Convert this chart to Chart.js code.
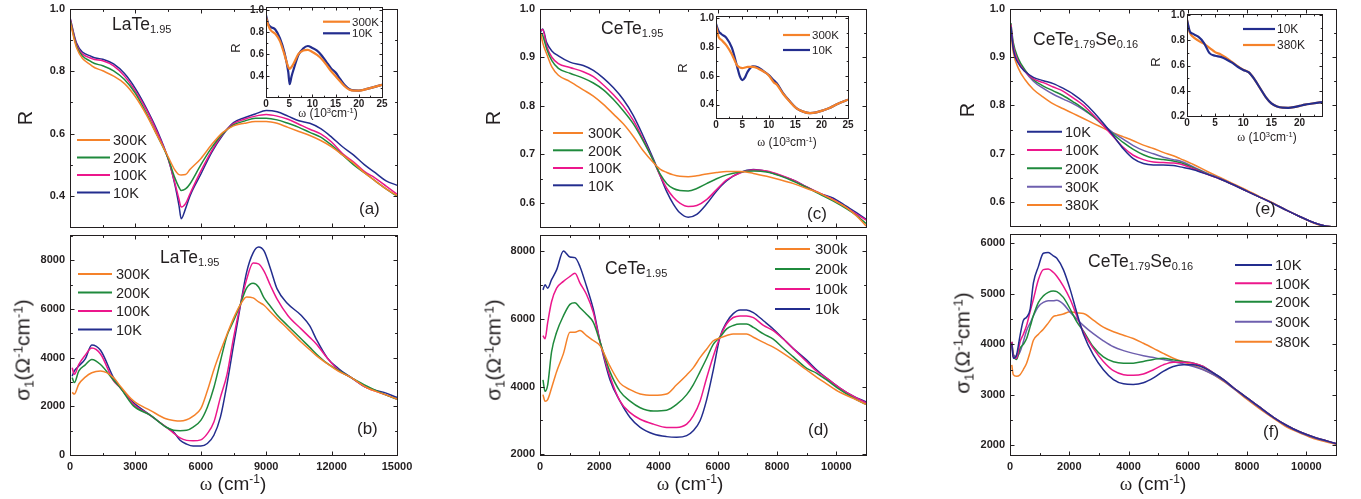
<!DOCTYPE html>
<html>
<head>
<meta charset="utf-8">
<script src="https://cdn.jsdelivr.net/npm/chart.js@4.4.1/dist/chart.umd.min.js"></script>
<style>
body{margin:0;background:#fff;width:1361px;height:499px;overflow:hidden;position:relative;font-family:"Liberation Sans",Arial,sans-serif;}
canvas{position:absolute;}
.t{position:absolute;white-space:nowrap;color:#231f20;line-height:1;}
.t sub{font-size:0.63em;vertical-align:-0.3em;line-height:0;}
.t sup{font-size:0.63em;vertical-align:0.55em;line-height:0;}
.w{font-family:"Liberation Serif","DejaVu Serif",serif;}
</style>
</head>
<body>
<script>
// ---------- data: panel (a) LaTe1.95 reflectivity ----------
var aX = [0,300,1000,1500,2000,2500,3000,3500,4000,4500,4800,5000,5100,5300,5500,6000,6500,7000,7500,8000,8500,9000,9500,10000,10500,11000,11500,12000,12500,13000,13500,14000,14500,15000];
var aR10 = [0.972,0.89,0.846,0.838,0.823,0.792,0.744,0.682,0.61,0.52,0.44,0.37,0.328,0.36,0.40,0.47,0.54,0.595,0.635,0.651,0.663,0.674,0.67,0.656,0.641,0.633,0.616,0.589,0.558,0.532,0.501,0.475,0.449,0.435];
var aR100 = [0.97,0.885,0.84,0.833,0.817,0.784,0.736,0.677,0.604,0.52,0.445,0.39,0.365,0.376,0.407,0.48,0.545,0.598,0.632,0.646,0.656,0.661,0.656,0.646,0.63,0.614,0.599,0.573,0.536,0.51,0.479,0.458,0.432,0.406];
var aR200 = [0.965,0.88,0.829,0.817,0.801,0.773,0.729,0.666,0.594,0.521,0.46,0.428,0.418,0.423,0.439,0.5,0.555,0.6,0.628,0.64,0.649,0.649,0.644,0.633,0.62,0.604,0.589,0.563,0.532,0.501,0.475,0.449,0.423,0.4];
var aR300 = [0.96,0.875,0.817,0.801,0.784,0.76,0.718,0.661,0.594,0.526,0.485,0.469,0.468,0.469,0.485,0.52,0.565,0.603,0.625,0.633,0.639,0.639,0.633,0.62,0.607,0.594,0.578,0.558,0.532,0.506,0.475,0.449,0.423,0.402];

// ---------- panel (b) LaTe1.95 conductivity ----------
var bX = [100,200,400,700,1000,1400,2000,2300,2900,3700,4400,4750,5050,5350,5650,6000,6300,6600,6900,7200,7500,7800,8100,8400,8650,8900,9200,9500,10000,10600,11000,11300,11800,12300,12900,13600,14400,15000];
var bS10 = [3240,3450,3650,3950,4520,4300,3170,2770,2160,1620,1150,946,608,446,365,365,473,811,1554,2900,4500,6050,7500,8300,8540,8380,7640,6820,6200,5740,5300,4750,3990,3560,3180,2770,2570,2365];
var bS100 = [3581,3311,3716,4100,4392,4149,3041,2770,2095,1622,1150,900,700,600,581,620,878,1351,2365,3300,4800,6100,7200,7880,7850,7550,6950,6400,5720,5180,4830,4560,3980,3500,3176,2770,2500,2297];
var bS200 = [3176,2973,3446,3700,3919,3716,3068,2770,2027,1622,1149,1014,1000,1014,1149,1419,1959,2770,3851,4900,5500,6150,6850,7050,6900,6450,6100,5750,5300,4770,4420,4150,3760,3480,3176,2838,2500,2297];
var bS300 = [2568,2500,2905,3200,3378,3446,3176,2838,2230,1824,1486,1420,1392,1450,1600,1900,2635,3500,4257,4950,5608,6150,6486,6450,6284,6150,5870,5600,5170,4640,4320,4080,3750,3450,3176,2770,2500,2297];

// ---------- inset of (a), x in 10^3 cm-1 ----------
var i1X = [0,0.5,1,2,3,4,4.8,5.1,5.5,6,7,8,9,10,11,12,13,14,15,16,17,18,19,20,22,25];
var i1R10 = [0.95,0.87,0.846,0.823,0.744,0.61,0.44,0.33,0.40,0.47,0.595,0.651,0.674,0.656,0.633,0.589,0.532,0.475,0.435,0.375,0.32,0.285,0.274,0.273,0.29,0.325];
var i1R300 = [0.93,0.86,0.817,0.784,0.718,0.594,0.485,0.468,0.485,0.52,0.603,0.633,0.639,0.62,0.594,0.558,0.506,0.449,0.402,0.355,0.31,0.28,0.272,0.272,0.29,0.325];

// ---------- panel (c) CeTe1.95 reflectivity ----------
var cX = [30,90,225,400,620,1010,1460,1800,2140,2480,2810,3150,3490,3830,4050,4280,4500,4720,5000,5290,5620,5960,6300,6750,7200,7650,8100,8550,9000,9450,9900,10350,10690,11000];
var cR10 = [0.953,0.958,0.93,0.913,0.903,0.89,0.883,0.873,0.857,0.837,0.813,0.78,0.737,0.69,0.657,0.623,0.598,0.58,0.571,0.577,0.598,0.625,0.646,0.663,0.669,0.665,0.657,0.647,0.633,0.62,0.61,0.593,0.58,0.567];
var cR100 = [0.955,0.957,0.923,0.9,0.887,0.879,0.87,0.86,0.843,0.823,0.8,0.77,0.73,0.687,0.657,0.63,0.612,0.6,0.593,0.595,0.607,0.628,0.648,0.662,0.668,0.666,0.658,0.647,0.633,0.62,0.607,0.59,0.577,0.565];
var cR200 = [0.95,0.945,0.917,0.893,0.877,0.867,0.857,0.847,0.833,0.813,0.79,0.763,0.727,0.687,0.66,0.64,0.63,0.626,0.625,0.63,0.64,0.65,0.658,0.664,0.666,0.664,0.656,0.645,0.632,0.618,0.604,0.588,0.574,0.558];
var cR300 = [0.949,0.93,0.907,0.88,0.863,0.85,0.833,0.82,0.803,0.783,0.763,0.737,0.707,0.683,0.67,0.663,0.658,0.655,0.654,0.656,0.66,0.663,0.665,0.665,0.661,0.655,0.648,0.64,0.63,0.62,0.606,0.59,0.573,0.553];

// ---------- panel (d) CeTe1.95 conductivity ----------
var dX = [100,170,260,390,560,790,1010,1180,1350,1570,1800,2030,2360,2700,3040,3380,3830,4270,4610,4950,5170,5400,5620,5850,6070,6300,6520,6750,6970,7200,7540,7870,8210,8550,9000,9340,9670,10120,10570,11000];
var dS10 = [6850,7000,6900,7150,7440,8000,7820,7800,7534,6954,6277,5309,4200,3567,3084,2793,2600,2522,2503,2552,2697,2990,3600,4500,5450,5900,6150,6258,6258,6180,5938,5696,5406,5116,4777,4487,4245,3955,3713,3548];
var dS100 = [5503,5406,5890,6500,6900,7100,7245,7341,7051,6712,6180,5309,4300,3567,3229,3035,2890,2793,2793,2890,3132,3567,4245,4900,5450,5850,6035,6083,6083,6030,5800,5650,5400,5110,4730,4450,4245,3955,3713,3519];
var dS200 = [4196,3858,4051,5019,5599,6083,6422,6470,6325,6132,5890,5309,4438,3858,3567,3374,3277,3300,3471,3761,4051,4438,4825,5250,5450,5700,5800,5841,5841,5745,5551,5400,5130,4874,4535,4390,4196,3906,3664,3471];
var dS300 = [3761,3567,3616,3955,4438,4970,5599,5599,5650,5500,5357,5200,4600,4100,3906,3780,3742,3780,4051,4341,4550,4850,5100,5350,5430,5503,5551,5551,5551,5454,5300,5160,4980,4777,4487,4270,4080,3830,3650,3471];

// ---------- inset of (c) ----------
var i2X = [0,0.5,1,2,3,4,4.5,5,5.5,6,7,8,9,10,11,11.5,12.7,14,15.2,16.5,17.8,19,20.3,21.5,23.1,25];
var i2R10 = [0.96,0.91,0.89,0.862,0.795,0.664,0.598,0.571,0.59,0.63,0.666,0.658,0.633,0.606,0.567,0.55,0.481,0.423,0.377,0.352,0.342,0.347,0.361,0.377,0.407,0.435];
var i2R300 = [0.95,0.87,0.85,0.81,0.75,0.672,0.658,0.654,0.658,0.663,0.663,0.65,0.63,0.603,0.553,0.54,0.476,0.42,0.376,0.352,0.342,0.347,0.361,0.377,0.407,0.435];

// ---------- panel (e) CeTe1.79Se0.16 reflectivity ----------
var eX = [30,110,280,510,790,1125,1460,1800,2140,2480,2810,3150,3490,3830,4160,4500,4840,5170,5510,5740,6190,6640,7090,7540,7990,8440,8890,9340,9790,10240,10570,11000];
var eR10 = [0.963,0.917,0.887,0.87,0.858,0.851,0.845,0.835,0.823,0.807,0.787,0.763,0.737,0.71,0.69,0.68,0.677,0.677,0.676,0.673,0.667,0.658,0.648,0.636,0.623,0.61,0.597,0.583,0.57,0.558,0.552,0.548];
var eR100 = [0.967,0.923,0.89,0.87,0.855,0.847,0.838,0.829,0.815,0.8,0.78,0.758,0.735,0.713,0.697,0.688,0.683,0.682,0.681,0.679,0.669,0.658,0.648,0.636,0.623,0.61,0.597,0.583,0.57,0.558,0.552,0.548];
var eR200 = [0.97,0.93,0.897,0.873,0.853,0.84,0.83,0.82,0.807,0.793,0.777,0.758,0.74,0.723,0.709,0.698,0.691,0.688,0.685,0.682,0.671,0.659,0.648,0.636,0.623,0.61,0.597,0.583,0.57,0.558,0.552,0.548];
var eR300 = [0.96,0.923,0.893,0.87,0.85,0.835,0.823,0.813,0.803,0.791,0.777,0.76,0.743,0.73,0.717,0.707,0.7,0.693,0.688,0.685,0.673,0.66,0.649,0.636,0.623,0.61,0.597,0.583,0.57,0.558,0.552,0.548];
var eR380 = [0.95,0.91,0.877,0.853,0.833,0.817,0.803,0.793,0.783,0.773,0.763,0.753,0.743,0.735,0.727,0.718,0.711,0.703,0.696,0.69,0.678,0.664,0.651,0.638,0.625,0.611,0.598,0.583,0.57,0.557,0.551,0.548];

// ---------- panel (f) CeTe1.79Se0.16 conductivity ----------
var fX = [60,110,220,340,450,560,680,790,960,1125,1290,1460,1580,1800,2030,2250,2480,2810,3150,3490,3830,4160,4500,4840,5170,5510,5850,6190,6520,6860,7200,7540,7990,8440,8890,9340,9790,10240,11000];
var fS10 = [4016,3724,3789,4179,4472,4537,4699,5220,5545,5805,5818,5753,5707,5480,5089,4634,4200,3789,3496,3301,3216,3203,3236,3333,3463,3561,3593,3593,3541,3431,3301,3138,2943,2748,2553,2390,2260,2163,2033];
var fS100 = [4049,3756,3724,4049,4200,4374,4650,4894,5285,5480,5493,5428,5350,5154,4894,4569,4240,3919,3659,3476,3398,3385,3411,3496,3593,3646,3646,3626,3561,3431,3301,3138,2943,2748,2553,2390,2260,2163,2033];
var fS200 = [4049,3800,3700,3919,4000,4114,4350,4569,4830,4960,5030,5057,5045,4930,4700,4450,4260,3950,3750,3655,3626,3626,3660,3700,3724,3691,3659,3626,3561,3431,3301,3138,2943,2748,2553,2390,2260,2163,2033];
var fS300 = [4049,3800,3750,3854,4050,4276,4420,4569,4750,4830,4862,4862,4875,4797,4634,4504,4370,4210,4070,3951,3875,3820,3775,3737,3700,3660,3610,3561,3496,3398,3280,3125,2930,2735,2545,2380,2250,2150,2025];
var fS380 = [3593,3400,3366,3398,3500,3626,3850,4081,4200,4300,4420,4550,4569,4602,4647,4621,4610,4480,4340,4250,4180,4114,4020,3920,3820,3724,3650,3580,3500,3398,3268,3125,2911,2715,2533,2358,2241,2130,2020];

// ---------- inset of (e) ----------
var i3X = [0,0.5,1,2,3,4,5,6,7,8,9,10,11,12,13,14,15,16,17,18,19,20,21,22,24];
var i3R10 = [0.963,0.87,0.852,0.828,0.78,0.698,0.677,0.668,0.648,0.623,0.59,0.565,0.545,0.49,0.42,0.35,0.3,0.275,0.266,0.265,0.27,0.28,0.29,0.297,0.31];
var i3R380 = [0.96,0.86,0.83,0.797,0.773,0.74,0.706,0.688,0.66,0.628,0.595,0.567,0.545,0.49,0.42,0.35,0.3,0.275,0.266,0.265,0.27,0.28,0.29,0.297,0.31];

// ---------- tick labels ----------
var ticksX15 = [0,3000,6000,9000,12000,15000];
var ticksX11 = [0,2000,4000,6000,8000,10000];
var ticksYa = [0.4,0.6,0.8,1.0];
var ticksYb = [0,2000,4000,6000,8000];
var ticksYce = [0.6,0.7,0.8,0.9,1.0];
var ticksYd = [2000,4000,6000,8000];
var ticksYf = [2000,3000,4000,5000,6000];
var ticksInX = [0,5,10,15,20,25];
var ticksIn3X = [0,5,10,15,20];
var ticksInY = [0.4,0.6,0.8,1.0];
var ticksIn3Y = [0.2,0.4,0.6,0.8,1.0];

var labK = ['300K','200K','100K','10K'];
var labk = ['300k','200k','100k','10k'];
var labSe = ['10K','100K','200K','300K','380K'];

var orange = '#f5822a', green = '#1f8a3c', pink = '#ec178c', blue = '#232d8e', purple = '#6e5fae';
var ink = '#231f20';
var fam = '"Liberation Sans", Arial, sans-serif';

function framePlugin(p) {
  return {
    id: 'frame',
    beforeDatasetsDraw: function(chart) {
      if (!p.white) return;
      var a = chart.chartArea, ctx = chart.ctx;
      ctx.save(); ctx.fillStyle = '#fff';
      ctx.fillRect(a.left, a.top, a.right - a.left, a.bottom - a.top);
      ctx.restore();
    },
    afterDatasetsDraw: function(chart) {
      var a = chart.chartArea, ctx = chart.ctx, xs = chart.scales.x, ys = chart.scales.y;
      var L = Math.round(a.left) + 0.5, R = Math.round(a.right) + 0.5, T = Math.round(a.top) + 0.5, B = Math.round(a.bottom) + 0.5;
      ctx.save();
      ctx.strokeStyle = ink; ctx.lineWidth = 1;
      ctx.strokeRect(L, T, R - L, B - T);
      ctx.beginPath();
      function tx(v, len) {
        var q = Math.round(xs.getPixelForValue(v)) + 0.5;
        ctx.moveTo(q, B); ctx.lineTo(q, B - len);
        ctx.moveTo(q, T); ctx.lineTo(q, T + len);
      }
      function ty(v, len) {
        var q = Math.round(ys.getPixelForValue(v)) + 0.5;
        ctx.moveTo(L, q); ctx.lineTo(L + len, q);
        ctx.moveTo(R, q); ctx.lineTo(R - len, q);
      }
      xs.ticks.forEach(function(t) { tx(t.value, p.tl); });
      ys.ticks.forEach(function(t) { ty(t.value, p.tl); });
      var v;
      for (v = Math.ceil(xs.min / p.xm - 1e-9) * p.xm; v <= xs.max + 1e-9; v += p.xm) tx(v, p.tl * 0.6);
      for (v = Math.ceil(ys.min / p.ym - 1e-9) * p.ym; v <= ys.max + 1e-9; v += p.ym) ty(v, p.tl * 0.6);
      ctx.stroke();
      ctx.restore();
    }
  };
}

function legendPlugin(p, ox, oy) {
  return {
    id: 'ilegend',
    afterDraw: function(chart) {
      var g = p.leg, ctx = chart.ctx;
      ctx.save();
      ctx.font = g.fs + 'px ' + fam;
      ctx.textBaseline = 'alphabetic';
      chart.data.datasets.forEach(function(d, i) {
        var y = g.rows[i] - oy;
        ctx.strokeStyle = d.borderColor; ctx.lineWidth = g.lw;
        ctx.beginPath(); ctx.moveTo(g.x0 - ox, y); ctx.lineTo(g.x1 - ox, y); ctx.stroke();
        ctx.fillStyle = ink;
        ctx.fillText(d.label, g.tx - ox, y + 0.36 * g.fs);
      });
      ctx.restore();
    }
  };
}

function panel(p) {
  var pt = 8, pr = 26, pb = p.xh ? 4 : 8;
  var w = p.box[2] - p.box[0], h = p.box[3] - p.box[1];
  var W = w + p.yw + pr, H = h + pt + p.xh + pb;
  var ox = p.box[0] - p.yw, oy = p.box[1] - pt;
  var cv = document.createElement('canvas');
  cv.width = W; cv.height = H;
  cv.style.left = ox + 'px'; cv.style.top = oy + 'px';
  document.body.appendChild(cv);
  var font = { family: fam, weight: 'bold', size: p.fs };
  new Chart(cv, {
    type: 'line',
    data: {
      datasets: p.series.map(function(s) {
        return {
          label: s[0], borderColor: s[3], borderWidth: p.lw, pointRadius: 0,
          cubicInterpolationMode: 'monotone', fill: false,
          data: s[1].map(function(x, i) { return { x: x, y: s[2][i] }; })
        };
      })
    },
    options: {
      responsive: false, animation: false, events: [],
      layout: { padding: { left: 0, top: pt, right: pr, bottom: pb } },
      plugins: { legend: { display: false }, tooltip: { enabled: false } },
      scales: {
        x: {
          type: 'linear', min: p.xr[0], max: p.xr[1],
          grid: { display: false, drawTicks: false }, border: { display: false },
          afterBuildTicks: function(s) { s.ticks = p.xt.map(function(v) { return { value: v }; }); },
          afterFit: function(s) { s.height = p.xh; },
          ticks: { display: p.xh > 0, font: font, color: ink, padding: p.xpad, maxRotation: 0, autoSkip: false,
                   callback: function(v) { return String(v); } }
        },
        y: {
          type: 'linear', min: p.yr[0], max: p.yr[1],
          grid: { display: false, drawTicks: false }, border: { display: false },
          afterBuildTicks: function(s) { s.ticks = p.yt.map(function(v) { return { value: v }; }); },
          afterFit: function(s) { s.width = p.yw; },
          ticks: { font: font, color: ink, padding: p.ypad, autoSkip: false,
                   callback: function(v) { return v.toFixed(p.dec); } }
        }
      }
    },
    plugins: [framePlugin(p), legendPlugin(p, ox, oy)]
  });
}

function txt(html, x, base, fs, mode) {
  var d = document.createElement('div');
  d.className = 't';
  d.style.fontSize = fs + 'px';
  d.innerHTML = html;
  if (mode === 'rot') {
    d.style.left = x + 'px'; d.style.top = base + 'px';
    d.style.transform = 'translate(-50%,-50%) rotate(-90deg)';
  } else {
    d.style.left = x + 'px'; d.style.top = (base - 0.85 * fs) + 'px';
    if (mode === 'c') d.style.transform = 'translateX(-50%)';
  }
  document.body.appendChild(d);
}

var main = { yw: 40, fs: 11, lw: 1.5, tl: 4, ypad: 5, xpad: 5 };
var ins = { yw: 24, fs: 10, lw: 2.2, tl: 3, ypad: 2, xpad: 1, xh: 13, white: true, xm: 2.5, ym: 0.1, dec: 1 };
function mk(base, extra) { var o = {}, k; for (k in base) o[k] = base[k]; for (k in extra) o[k] = extra[k]; return o; }

// column 1
panel(mk(main, { box: [70, 5, 397, 231], xh: 0, xr: [0, 15000], yr: [0.3, 1.0], xt: ticksX15, yt: ticksYa, dec: 1, xm: 1500, ym: 0.1,
  series: [[labK[0], aX, aR300, orange], [labK[1], aX, aR200, green], [labK[2], aX, aR100, pink], [labK[3], aX, aR10, blue]],
  leg: { x0: 77, x1: 110, tx: 113, rows: [140, 157.5, 175, 192.5], fs: 14.5, lw: 2 } }));
panel(mk(main, { box: [70, 231, 397, 455], xh: 22, xr: [0, 15000], yr: [0, 9050], xt: ticksX15, yt: ticksYb, dec: 0, xm: 1500, ym: 1000,
  series: [[labK[0], bX, bS300, orange], [labK[1], bX, bS200, green], [labK[2], bX, bS100, pink], [labK[3], bX, bS10, blue]],
  leg: { x0: 78, x1: 112, tx: 116, rows: [274, 292.5, 311, 329.5], fs: 14.5, lw: 2 } }));
panel(mk(ins, { box: [266, 7, 382, 97], xr: [0, 25], yr: [0.215, 1.025], xt: ticksInX, yt: ticksInY,
  series: [['300K', i1X, i1R300, orange], ['10K', i1X, i1R10, blue]],
  leg: { x0: 323, x1: 350, tx: 352, rows: [21.7, 33.3], fs: 11.5, lw: 2.2 } }));

// column 2
panel(mk(main, { box: [540, 5, 866, 231], xh: 0, xr: [0, 11000], yr: [0.55, 1.0], xt: ticksX11, yt: ticksYce, dec: 1, xm: 1000, ym: 0.05,
  series: [[labK[0], cX, cR300, orange], [labK[1], cX, cR200, green], [labK[2], cX, cR100, pink], [labK[3], cX, cR10, blue]],
  leg: { x0: 553, x1: 583, tx: 588, rows: [133, 150.3, 168, 185.3], fs: 14.5, lw: 2 } }));
panel(mk(main, { box: [540, 231, 866, 455], xh: 22, xr: [0, 11000], yr: [1980, 8480], xt: ticksX11, yt: ticksYd, dec: 0, xm: 1000, ym: 1000,
  series: [[labk[0], dX, dS300, orange], [labk[1], dX, dS200, green], [labk[2], dX, dS100, pink], [labk[3], dX, dS10, blue]],
  leg: { x0: 775, x1: 810, tx: 815, rows: [249, 269, 289, 309], fs: 15, lw: 2 } }));
panel(mk(ins, { box: [716, 16, 848, 118], xr: [0, 25], yr: [0.308, 1.015], xt: ticksInX, yt: ticksInY,
  series: [['300K', i2X, i2R300, orange], ['10K', i2X, i2R10, blue]],
  leg: { x0: 783, x1: 810, tx: 812, rows: [35, 50], fs: 11.5, lw: 2.2 } }));

// column 3
panel(mk(main, { box: [1010, 5, 1336, 230], xh: 0, xr: [0, 11000], yr: [0.55, 1.0], xt: ticksX11, yt: ticksYce, dec: 1, xm: 1000, ym: 0.05,
  series: [[labSe[0], eX, eR10, blue], [labSe[1], eX, eR100, pink], [labSe[2], eX, eR200, green], [labSe[3], eX, eR300, purple], [labSe[4], eX, eR380, orange]],
  leg: { x0: 1027, x1: 1062, tx: 1065, rows: [131.7, 150, 168.3, 186.7, 205], fs: 14.5, lw: 2 } }));
panel(mk(main, { box: [1010, 230, 1336, 455], xh: 22, xr: [0, 11000], yr: [1805, 6195], xt: ticksX11, yt: ticksYf, dec: 0, xm: 1000, ym: 500,
  series: [[labSe[0], fX, fS10, blue], [labSe[1], fX, fS100, pink], [labSe[2], fX, fS200, green], [labSe[3], fX, fS300, purple], [labSe[4], fX, fS380, orange]],
  leg: { x0: 1235, x1: 1272, tx: 1275, rows: [265, 283.3, 301.7, 321.7, 341.7], fs: 15, lw: 2 } }));
panel(mk(ins, { box: [1187, 14, 1322, 116], xr: [0, 24], yr: [0.2, 1.008], xt: ticksIn3X, yt: ticksIn3Y,
  series: [['10K', i3X, i3R10, blue], ['380K', i3X, i3R380, orange]],
  leg: { x0: 1243, x1: 1275, tx: 1277, rows: [29, 45], fs: 12, lw: 2.2 } }));

// titles and annotations
var sig = '&sigma;<sub>1</sub>(&Omega;<sup>-1</sup>cm<sup>-1</sup>)';
var om = '<span class="w">&omega;</span> (cm<sup>-1</sup>)';
var omIn = '<span class="w">&omega;</span> (10<sup>3</sup>cm<sup>-1</sup>)';

txt('R', 25, 118, 20, 'rot');
txt('LaTe<sub>1.95</sub>', 112, 31, 17.5);
txt('(a)', 359, 214, 17);
txt('R', 235, 48, 13, 'rot');
txt(omIn, 328, 117, 12, 'c');
txt('LaTe<sub>1.95</sub>', 160, 264, 17.5);
txt('(b)', 357, 434, 17);
txt(sig, 22, 350, 21, 'rot');
txt(om, 233, 490, 19, 'c');

txt('R', 493, 118, 20, 'rot');
txt('CeTe<sub>1.95</sub>', 601, 35, 17.5);
txt('(c)', 807, 219, 17);
txt('R', 682, 68, 13, 'rot');
txt(omIn, 787, 146, 12, 'c');
txt('CeTe<sub>1.95</sub>', 605, 275, 17.5);
txt('(d)', 808, 435, 17);
txt(sig, 493, 350, 21, 'rot');
txt(om, 690, 490, 19, 'c');

txt('R', 967, 110, 20, 'rot');
txt('CeTe<sub>1.79</sub>Se<sub>0.16</sub>', 1033, 46, 17.5);
txt('(e)', 1255, 214, 17);
txt('R', 1155, 62, 13, 'rot');
txt(omIn, 1267, 141, 12, 'c');
txt('CeTe<sub>1.79</sub>Se<sub>0.16</sub>', 1088, 268, 17.5);
txt('(f)', 1263, 437, 17);
txt(sig, 962, 343, 21, 'rot');
txt(om, 1153, 490, 19, 'c');
</script>
</body>
</html>
